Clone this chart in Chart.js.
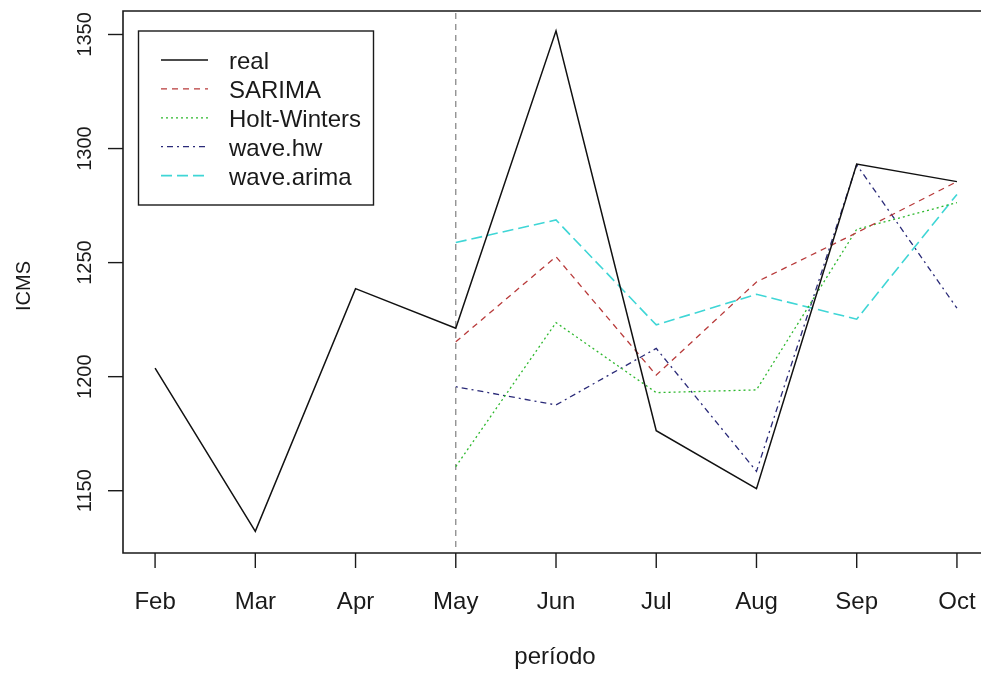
<!DOCTYPE html>
<html>
<head>
<meta charset="utf-8">
<script src="https://cdn.jsdelivr.net/npm/chart.js@4/dist/chart.umd.min.js"></script>
<style>
  html, body { margin: 0; padding: 0; background: #fff; overflow: hidden; }
  #wrap { width: 981px; height: 674px; position: relative; }
</style>
</head>
<body>
<div id="wrap"><canvas id="c" width="981" height="674"></canvas></div>
<script>
// Monthly ICMS: observed series and four forecasts starting in May
const months = ['Feb', 'Mar', 'Apr', 'May', 'Jun', 'Jul', 'Aug', 'Sep', 'Oct'];
const real        = [1203.7, 1132.2, 1238.6, 1221.2, 1351.6, 1176.3, 1150.9, 1293.2, 1285.5];
const sarima      = [null, null, null, 1215.3, 1252.6, 1200.7, 1241.5, 1263.1, 1285.5];
const holtWinters = [null, null, null, 1160.6, 1223.7, 1193.0, 1194.2, 1264.6, 1276.3];
const waveHw      = [null, null, null, 1195.6, 1187.6, 1212.4, 1158.5, 1292.9, 1230.0];
const waveArima   = [null, null, null, 1258.8, 1268.7, 1222.7, 1236.1, 1225.2, 1279.9];
const yTicks = [1150, 1200, 1250, 1300, 1350];
const forecastStart = 'May';
const xTitle = 'período';
const yTitle = 'ICMS';

const FONT = '"Liberation Sans", Arial, sans-serif';
const INK = '#1a1a1a';

function toPoints(arr) {
  const pts = [];
  arr.forEach((v, i) => { if (v !== null) pts.push({ x: i, y: v }); });
  return pts;
}

function series(label, arr, color, dash, width) {
  return {
    label: label,
    data: toPoints(arr),
    borderColor: color,
    backgroundColor: color,
    borderDash: dash,
    borderWidth: width,
    pointRadius: 0,
    tension: 0,
    fill: false
  };
}

// Axes, box, titles, reference line and legend in base-graphics style
const basePlot = {
  id: 'basePlot',
  beforeDatasetsDraw(chart) {
    const { ctx, chartArea: a, scales: { x } } = chart;
    const vx = x.getPixelForValue(months.indexOf(forecastStart));
    ctx.save();
    ctx.strokeStyle = '#808080';
    ctx.lineWidth = 1.2;
    ctx.setLineDash([6, 5]);
    ctx.beginPath();
    ctx.moveTo(vx, a.top + 2);
    ctx.lineTo(vx, a.bottom - 4);
    ctx.stroke();
    ctx.restore();
  },
  afterDraw(chart) {
    const { ctx, chartArea: a, scales: { x, y } } = chart;
    ctx.save();
    ctx.strokeStyle = INK;
    ctx.fillStyle = INK;
    ctx.lineWidth = 1.6;
    ctx.setLineDash([]);

    // box (right side falls outside the canvas)
    ctx.beginPath();
    ctx.moveTo(a.right + 10, a.top);
    ctx.lineTo(a.left, a.top);
    ctx.lineTo(a.left, a.bottom);
    ctx.lineTo(a.right + 10, a.bottom);
    ctx.stroke();

    // y axis ticks and rotated labels
    ctx.lineWidth = 1.4;
    ctx.font = '20px ' + FONT;
    ctx.textAlign = 'center';
    ctx.textBaseline = 'alphabetic';
    yTicks.forEach(v => {
      const py = y.getPixelForValue(v);
      ctx.beginPath();
      ctx.moveTo(a.left - 15, py);
      ctx.lineTo(a.left, py);
      ctx.stroke();
      ctx.save();
      ctx.translate(a.left - 32, py);
      ctx.rotate(-Math.PI / 2);
      ctx.fillText(String(v), 0, 0);
      ctx.restore();
    });

    // x axis ticks and month labels
    ctx.font = '24px ' + FONT;
    months.forEach((m, i) => {
      const px = x.getPixelForValue(i);
      ctx.beginPath();
      ctx.moveTo(px, a.bottom);
      ctx.lineTo(px, a.bottom + 15);
      ctx.stroke();
      ctx.fillText(m, px, a.bottom + 56);
    });

    // axis titles
    ctx.fillText(xTitle, 555, 664);
    ctx.save();
    ctx.font = '20px ' + FONT;
    ctx.translate(30, 286);
    ctx.rotate(-Math.PI / 2);
    ctx.fillText(yTitle, 0, 0);
    ctx.restore();

    // legend
    const lx = 138.5, ly = 31, lw = 235, lh = 174;
    ctx.lineWidth = 1.4;
    ctx.fillStyle = '#fff';
    ctx.fillRect(lx, ly, lw, lh);
    ctx.strokeStyle = INK;
    ctx.strokeRect(lx, ly, lw, lh);
    ctx.font = '24px ' + FONT;
    ctx.textAlign = 'left';
    chart.data.datasets.forEach((ds, i) => {
      const ry = 60 + i * 28.9;
      ctx.save();
      ctx.strokeStyle = ds.borderColor;
      ctx.lineWidth = ds.borderWidth;
      ctx.setLineDash(ds.borderDash || []);
      ctx.beginPath();
      ctx.moveTo(161, ry);
      ctx.lineTo(208, ry);
      ctx.stroke();
      ctx.restore();
      ctx.fillStyle = INK;
      ctx.fillText(ds.label, 229, ry + 9);
    });
    ctx.restore();
  }
};

new Chart(document.getElementById('c'), {
  type: 'line',
  data: {
    datasets: [
      series('real', real, '#111111', [], 1.5),
      series('SARIMA', sarima, '#b83a3a', [6, 5], 1.3),
      series('Holt-Winters', holtWinters, '#2db82d', [2, 3], 1.3),
      series('wave.hw', waveHw, '#2a2a78', [2, 4, 6, 4], 1.3),
      series('wave.arima', waveArima, '#3fd6d6', [11, 5], 1.6)
    ]
  },
  options: {
    responsive: false,
    animation: false,
    events: [],
    layout: { padding: { left: 123, top: 11, right: 0, bottom: 121 } },
    scales: {
      x: { type: 'linear', min: -0.32, max: 8.24, display: false },
      y: { type: 'linear', min: 1122.7, max: 1360.3, display: false }
    },
    plugins: { legend: { display: false }, tooltip: { enabled: false } }
  },
  plugins: [basePlot]
});
</script>
</body>
</html>
